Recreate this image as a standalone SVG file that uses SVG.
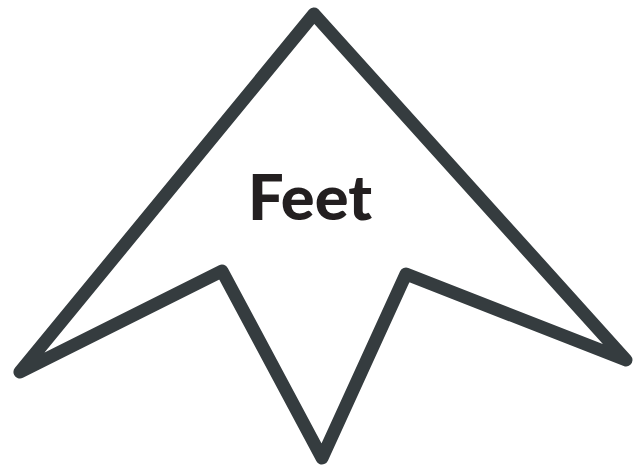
<svg xmlns="http://www.w3.org/2000/svg" width="644" height="476" viewBox="0 0 644 476">
<style>
.shape{fill:none;stroke:#353c3f;stroke-width:13;stroke-linejoin:round;stroke-linecap:round}
.lbl{font-family:Lato,"Open Sans",sans-serif;font-weight:900;font-size:63px;fill:#231f20}
</style>
<rect width="644" height="476" fill="#ffffff"/>
<g id="feet">
<polygon class="shape" points="314,14 626,360 406,274 322,458 222,271 20,372"/>
<text class="lbl" x="310" y="220" text-anchor="middle" textLength="124" lengthAdjust="spacingAndGlyphs">Feet</text>
</g>
</svg>
